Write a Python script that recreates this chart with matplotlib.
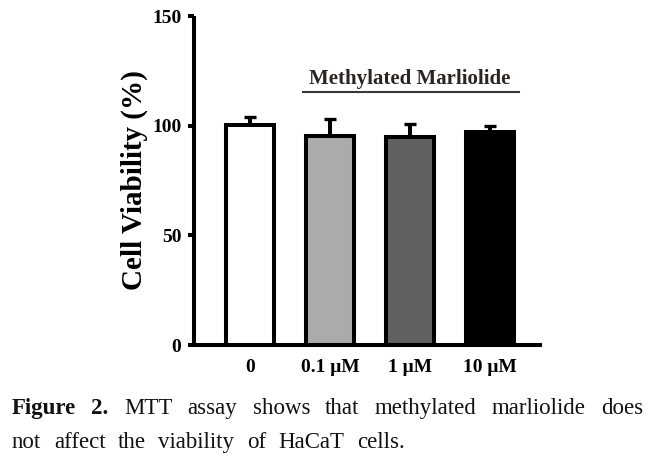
import matplotlib.pyplot as plt
import numpy as np

# ==============================
# DATA
# ==============================

groups = ["0", "0.1 μM", "1 μM", "10 μM"]
viability = [100.2, 95.2, 94.7, 97.0]
sd = [3.7, 8.0, 6.2, 2.9]
bar_colors = ["white", "#ababab", "#616161", "black"]
y_ticks = [0, 50, 100, 150]

bracket_label = "Methylated Marliolide"
caption_bold = ["Figure", "2."]
caption_line1 = ["MTT", "assay", "shows", "that", "methylated", "marliolide", "does"]
caption_line2 = ["not", "affect", "the", "viability", "of", "HaCaT", "cells."]

# ==============================
# FIGURE
# ==============================

W, H = 663, 461
plt.rcParams["font.family"] = ["Liberation Serif", "DejaVu Serif"]

fig = plt.figure(figsize=(W / 100, H / 100), dpi=100)
ax = fig.add_axes([194 / W, 116 / H, 348 / W, 329 / H])

x = np.arange(len(groups))
lw = 2.9

ax.errorbar(x, viability, yerr=[np.zeros(len(sd)), sd], fmt="none",
            ecolor="black", elinewidth=lw, capsize=4.6, capthick=2.4, zorder=1)
ax.bar(x, viability, width=0.6, color=bar_colors, edgecolor="black",
       linewidth=lw, zorder=2)

ax.set_xlim(-0.7, 3.65)
ax.set_ylim(0, 150)
ax.set_yticks(y_ticks)
ax.set_xticks(x)
ax.set_xticklabels(groups, fontsize=14, fontweight="bold")
ax.set_yticklabels([str(v) for v in y_ticks], fontsize=14, fontweight="bold")
ax.tick_params(axis="x", length=0, pad=10)
ax.tick_params(axis="y", length=4, width=lw, pad=5)

for s in ["top", "right"]:
    ax.spines[s].set_visible(False)
for s in ["left", "bottom"]:
    ax.spines[s].set_linewidth(lw)
    ax.spines[s].set_capstyle("butt")

ax.set_ylabel("Cell Viability (%)", fontsize=21, fontweight="bold")
ax.yaxis.set_label_coords(-0.132, 0.50)

# bracket over the treated groups
fig.text(410 / W, 1 - 84 / H, bracket_label, fontsize=15, fontweight="bold",
         ha="center", va="baseline", color="#2a2522")
fig.add_artist(plt.Line2D([303 / W, 519 / W], [1 - 92 / H, 1 - 92 / H],
                          color="#3c3835", linewidth=1.5))

# ==============================
# CAPTION (words spread across each line)
# ==============================

fig.canvas.draw()
renderer = fig.canvas.get_renderer()


def place_words(words, weights, y_base, x0, x1):
    items = []
    for w, wt in zip(words, weights):
        t = fig.text(0, 1 - y_base / H, w, fontsize=16.5, fontweight=wt,
                     ha="left", va="baseline", color="#111111")
        items.append((t, t.get_window_extent(renderer).width))
    gap = (x1 - x0 - sum(wd for _, wd in items)) / (len(items) - 1)
    pos = x0
    for t, wd in items:
        t.set_x(pos / W)
        pos += wd + gap


line1 = caption_bold + caption_line1
weights1 = ["bold"] * len(caption_bold) + ["normal"] * len(caption_line1)
place_words(line1, weights1, 414, 12, 643)
place_words(caption_line2, ["normal"] * len(caption_line2), 448, 12, 405)

fig.savefig("out.png", dpi=100)
